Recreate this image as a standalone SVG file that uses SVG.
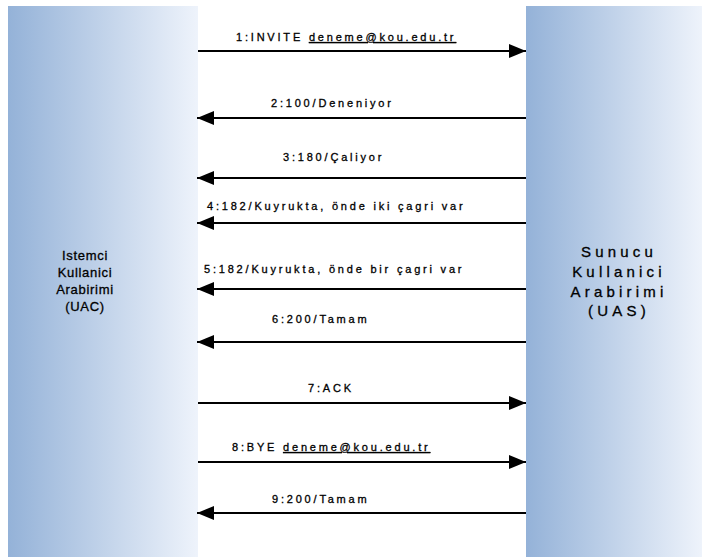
<svg xmlns="http://www.w3.org/2000/svg" width="702" height="557" viewBox="0 0 702 557">
  <defs>
    <linearGradient id="panelFill" x1="0" y1="0" x2="1" y2="0">
      <stop offset="0" stop-color="#94b2d8"/>
      <stop offset="1" stop-color="#eef3fb"/>
    </linearGradient>
    <marker id="head" markerUnits="userSpaceOnUse" markerWidth="18" markerHeight="14" refX="17" refY="7" orient="auto">
      <path d="M0,0 L17,7 L0,14 Z" fill="#000"/>
    </marker>
    <style>
      .panel { fill: url(#panelFill); }
      .agent { font-family: "Liberation Sans", Arial, sans-serif; fill: #000; stroke: #000; stroke-width: 0.3; text-anchor: middle; }
      .uac { font-size: 13px; letter-spacing: 0.7px; }
      .uas { font-size: 15px; letter-spacing: 4.2px; }
      .msg { font-family: "Liberation Sans", Arial, sans-serif; font-size: 11px; letter-spacing: 2.8px; fill: #000; stroke: #000; stroke-width: 0.3; }
      .uri { text-decoration: underline; }
      .flow { stroke: #000; stroke-width: 2; fill: none; marker-end: url(#head); }
    </style>
  </defs>

  <rect width="702" height="557" fill="#fff"/>

  <!-- client side lane -->
  <g id="uac">
    <rect class="panel" x="8" y="6" width="190" height="551"/>
    <text class="agent uac" x="85" y="260">Istemci</text>
    <text class="agent uac" x="85" y="277">Kullanici</text>
    <text class="agent uac" x="85" y="294">Arabirimi</text>
    <text class="agent uac" x="85" y="311">(UAC)</text>
  </g>

  <!-- server side lane -->
  <g id="uas">
    <rect class="panel" x="526" y="6" width="176" height="551"/>
    <text class="agent uas" x="619" y="257">Sunucu</text>
    <text class="agent uas" x="619" y="277">Kullanici</text>
    <text class="agent uas" x="619" y="297">Arabirimi</text>
    <text class="agent uas" x="619" y="316">(UAS)</text>
  </g>

  <!-- message flows -->
  <g id="connectors">
    <line class="flow" x1="198" y1="51" x2="526" y2="51"/>
    <line class="flow" x1="526" y1="118" x2="197" y2="118"/>
    <line class="flow" x1="526" y1="178" x2="197" y2="178"/>
    <line class="flow" x1="526" y1="223" x2="197" y2="223"/>
    <line class="flow" x1="526" y1="289" x2="197" y2="289"/>
    <line class="flow" x1="526" y1="342" x2="197" y2="342"/>
    <line class="flow" x1="198" y1="403" x2="526" y2="403"/>
    <line class="flow" x1="198" y1="462" x2="526" y2="462"/>
    <line class="flow" x1="526" y1="513" x2="197" y2="513"/>
  </g>

  <g id="labels">
    <text class="msg" x="236" y="41">1:INVITE <tspan class="uri">deneme@kou.edu.tr</tspan></text>
    <text class="msg" x="271" y="107">2:100/Deneniyor</text>
    <text class="msg" x="283" y="161">3:180/Çaliyor</text>
    <text class="msg" x="207" y="210">4:182/Kuyrukta, önde iki çagri var</text>
    <text class="msg" x="204" y="273">5:182/Kuyrukta, önde bir çagri var</text>
    <text class="msg" x="272" y="323">6:200/Tamam</text>
    <text class="msg" x="308" y="392">7:ACK</text>
    <text class="msg" x="232" y="451">8:BYE <tspan class="uri">deneme@kou.edu.tr</tspan></text>
    <text class="msg" x="272" y="503">9:200/Tamam</text>
  </g>
</svg>
